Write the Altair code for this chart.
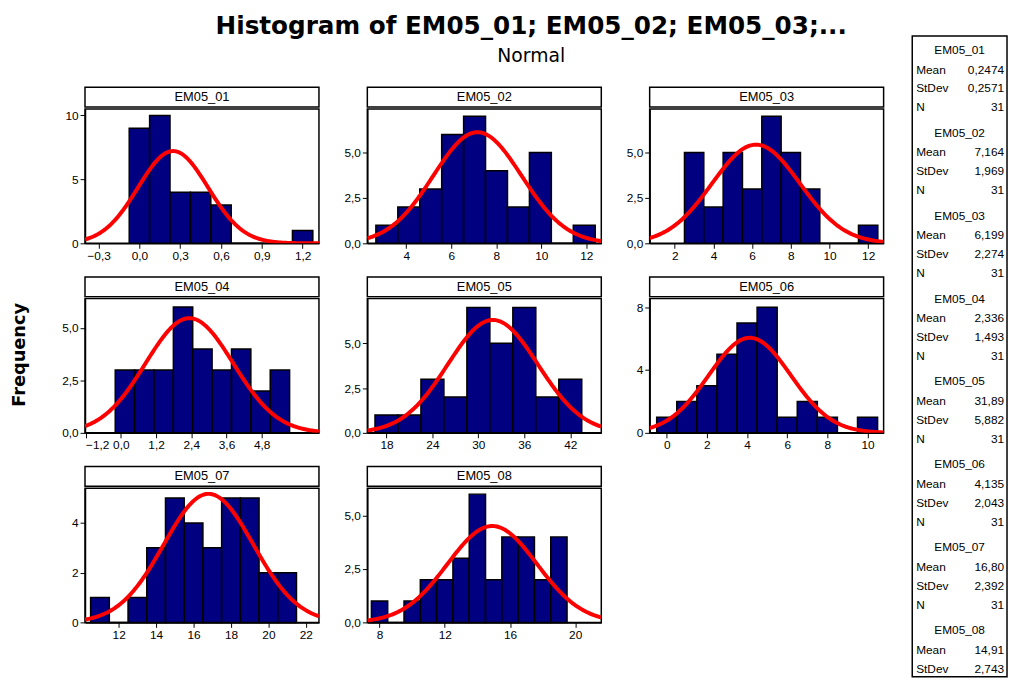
import numpy as np
import pandas as pd
import altair as alt

FONT = "Liberation Sans"

names = ["EM05_01", "EM05_02", "EM05_03", "EM05_04",
         "EM05_05", "EM05_06", "EM05_07", "EM05_08"]
means = [0.2474, 7.164, 6.199, 2.336, 31.89, 4.135, 16.80, 14.91]
stdevs = [0.2571, 1.969, 2.274, 1.493, 5.882, 2.043, 2.392, 2.743]
n_obs = [31, 31, 31, 31, 31, 31, 31, 31]
mean_txt = ["0,2474", "7,164", "6,199", "2,336", "31,89", "4,135", "16,80", "14,91"]
sd_txt = ["0,2571", "1,969", "2,274", "1,493", "5,882", "2,043", "2,392", "2,743"]

# histogram: first bin start, bin width, counts
bin_start = [-0.075, 2.65, 2.5, -0.19, 16.5, -0.5, 10.5, 7.5]
bin_width = [0.15, 0.975, 1.0, 0.66, 3.0, 1.0, 1.0, 1.0]
counts = [
    [9, 10, 4, 4, 3, 0, 0, 0, 1],
    [1, 2, 3, 6, 7, 4, 2, 5, 0, 1],
    [5, 2, 5, 3, 7, 5, 3, 0, 0, 1],
    [3, 3, 3, 6, 4, 3, 4, 2, 3],
    [1, 1, 3, 2, 7, 5, 7, 2, 3],
    [1, 2, 3, 5, 7, 8, 1, 2, 1, 0, 1],
    [1, 0, 1, 3, 5, 4, 3, 5, 5, 2, 2],
    [1, 0, 1, 2, 2, 3, 6, 2, 4, 4, 2, 4],
]
x_domains = [[-0.4, 1.32], [2.27, 12.67], [0.7, 12.8], [-1.22, 6.75],
             [15.5, 46.05], [-0.85, 10.8], [10.2, 22.7], [7.25, 21.6]]
x_ticks = [[-0.3, 0.0, 0.3, 0.6, 0.9, 1.2], [4, 6, 8, 10, 12], [2, 4, 6, 8, 10, 12],
           [-1.2, 0.0, 1.2, 2.4, 3.6, 4.8], [18, 24, 30, 36, 42], [0, 2, 4, 6, 8, 10],
           [12, 14, 16, 18, 20, 22], [8, 10, 12, 14, 16, 18, 20]]
x_dec = [1, 0, 0, 1, 0, 0, 0, 0]
y_tops = [10.5, 7.4, 7.4, 6.4, 7.5, 8.55, 5.4, 6.28]
y_ticks = [[0, 5, 10], [0, 2.5, 5.0], [0, 2.5, 5.0], [0, 2.5, 5.0],
           [0, 2.5, 5.0], [0, 4, 8], [0, 2, 4], [0, 2.5, 5.0]]
y_dec = [0, 1, 1, 1, 1, 0, 0, 1]

W, H = 237, 136


def label_expr(dec):
    return f"replace(format(datum.value, '.{dec}f'), '.', ',')"


def panel(i):
    edges = bin_start[i] + bin_width[i] * np.arange(len(counts[i]) + 1)
    bars = pd.DataFrame({"x0": edges[:-1], "x1": edges[1:], "count": counts[i]})
    lo, hi = x_domains[i]
    gx = np.linspace(lo, hi, 200)
    dens = n_obs[i] * bin_width[i] * np.exp(-0.5 * ((gx - means[i]) / stdevs[i]) ** 2) / (
        stdevs[i] * np.sqrt(2 * np.pi))
    curve = pd.DataFrame({"x": gx, "y": dens})

    xs = alt.Scale(domain=x_domains[i], nice=False, zero=False)
    ys = alt.Scale(domain=[0, y_tops[i]], nice=False)
    xa = alt.Axis(values=x_ticks[i], labelExpr=label_expr(x_dec[i]), title=None, grid=False)
    ya = alt.Axis(values=y_ticks[i], labelExpr=label_expr(y_dec[i]), title=None, grid=False)

    hist = alt.Chart(bars).mark_rect(fill="#000080", stroke="black", strokeWidth=1.5).encode(
        x=alt.X("x0:Q", scale=xs, axis=xa), x2="x1:Q",
        y=alt.Y("count:Q", scale=ys, axis=ya),
    )
    line = alt.Chart(curve).mark_line(color="red", strokeWidth=4, clip=True).encode(
        x="x:Q", y="y:Q")
    body = (hist + line).properties(width=W, height=H)

    strip = alt.Chart(pd.DataFrame({"t": [names[i]]})).mark_text(
        font=FONT, fontSize=13, baseline="middle").encode(
        x=alt.value(W / 2), y=alt.value(10), text="t:N"
    ).properties(width=W, height=20)
    return alt.vconcat(strip, body, spacing=0)


panels = [panel(i) for i in range(8)]
rows = [alt.hconcat(*panels[0:3], spacing=17),
        alt.hconcat(*panels[3:6], spacing=17),
        alt.hconcat(*panels[6:8], spacing=17)]

noframe = alt.ViewConfig(strokeWidth=0, stroke="transparent")
header = alt.layer(
    alt.Chart(pd.DataFrame({"t": ["Histogram of EM05_01; EM05_02; EM05_03;..."]})).mark_text(
        font="DejaVu Sans", fontSize=25, fontWeight="bold", baseline="middle").encode(
        x=alt.value(452), y=alt.value(14), text="t:N"),
    alt.Chart(pd.DataFrame({"t": ["Normal"]})).mark_text(
        font="DejaVu Sans", fontSize=19, baseline="middle").encode(
        x=alt.value(452), y=alt.value(44), text="t:N"),
).properties(width=800, height=61, view=noframe)

grid = alt.vconcat(header, alt.vconcat(*rows, spacing=14), spacing=14)

freq = alt.Chart(pd.DataFrame({"t": ["Frequency"]})).mark_text(
    font="DejaVu Sans", fontSize=18, fontWeight="bold", angle=270, baseline="middle").encode(
    x=alt.value(12), y=alt.value(347), text="t:N"
).properties(width=14, height=600, view=noframe)

# stats legend box
TOP = 24
rows_txt = []
for i in range(8):
    base = TOP + 14 + 84 * i
    rows_txt.append({"y": base, "l": "", "c": names[i], "r": ""})
    rows_txt.append({"y": base + 20, "l": "Mean", "c": "", "r": mean_txt[i]})
    rows_txt.append({"y": base + 39, "l": "StDev", "c": "", "r": sd_txt[i]})
    rows_txt.append({"y": base + 58, "l": "N", "c": "", "r": str(n_obs[i])})
st = pd.DataFrame(rows_txt)
SH = 673
ysc = alt.Scale(domain=[0, SH], range=[0, SH])
sbase = alt.Chart(st)
box = alt.Chart(pd.DataFrame({"a": [0]})).mark_rect(
    fill="white", stroke="black", strokeWidth=1.5).encode(
    x=alt.value(0), x2=alt.value(96), y=alt.value(TOP), y2=alt.value(SH))
stats = alt.layer(
    box,
    sbase.mark_text(font=FONT, fontSize=12, align="center", clip=True).encode(
        x=alt.value(48), y=alt.Y("y:Q", scale=ysc, axis=None), text="c:N"),
    sbase.mark_text(font=FONT, fontSize=12, align="left", clip=True).encode(
        x=alt.value(4), y=alt.Y("y:Q", scale=ysc, axis=None), text="l:N"),
    sbase.mark_text(font=FONT, fontSize=12, align="right", clip=True).encode(
        x=alt.value(93), y=alt.Y("y:Q", scale=ysc, axis=None), text="r:N"),
).properties(width=96, height=SH, view=noframe)

chart = alt.hconcat(alt.hconcat(freq, grid, spacing=26), stats, spacing=27).properties(
    padding=0
).configure_view(
    stroke="black", strokeWidth=1.5
).configure_axis(
    labelFont=FONT, labelFontSize=12, labelColor="black", domainColor="black",
    tickColor="black", tickSize=5, domainWidth=1.5, labelPadding=2
).configure_axisY(minExtent=30, maxExtent=30).configure_concat(spacing=0)

chart.save("out.html", embed_options={"renderer": "svg", "actions": False})
